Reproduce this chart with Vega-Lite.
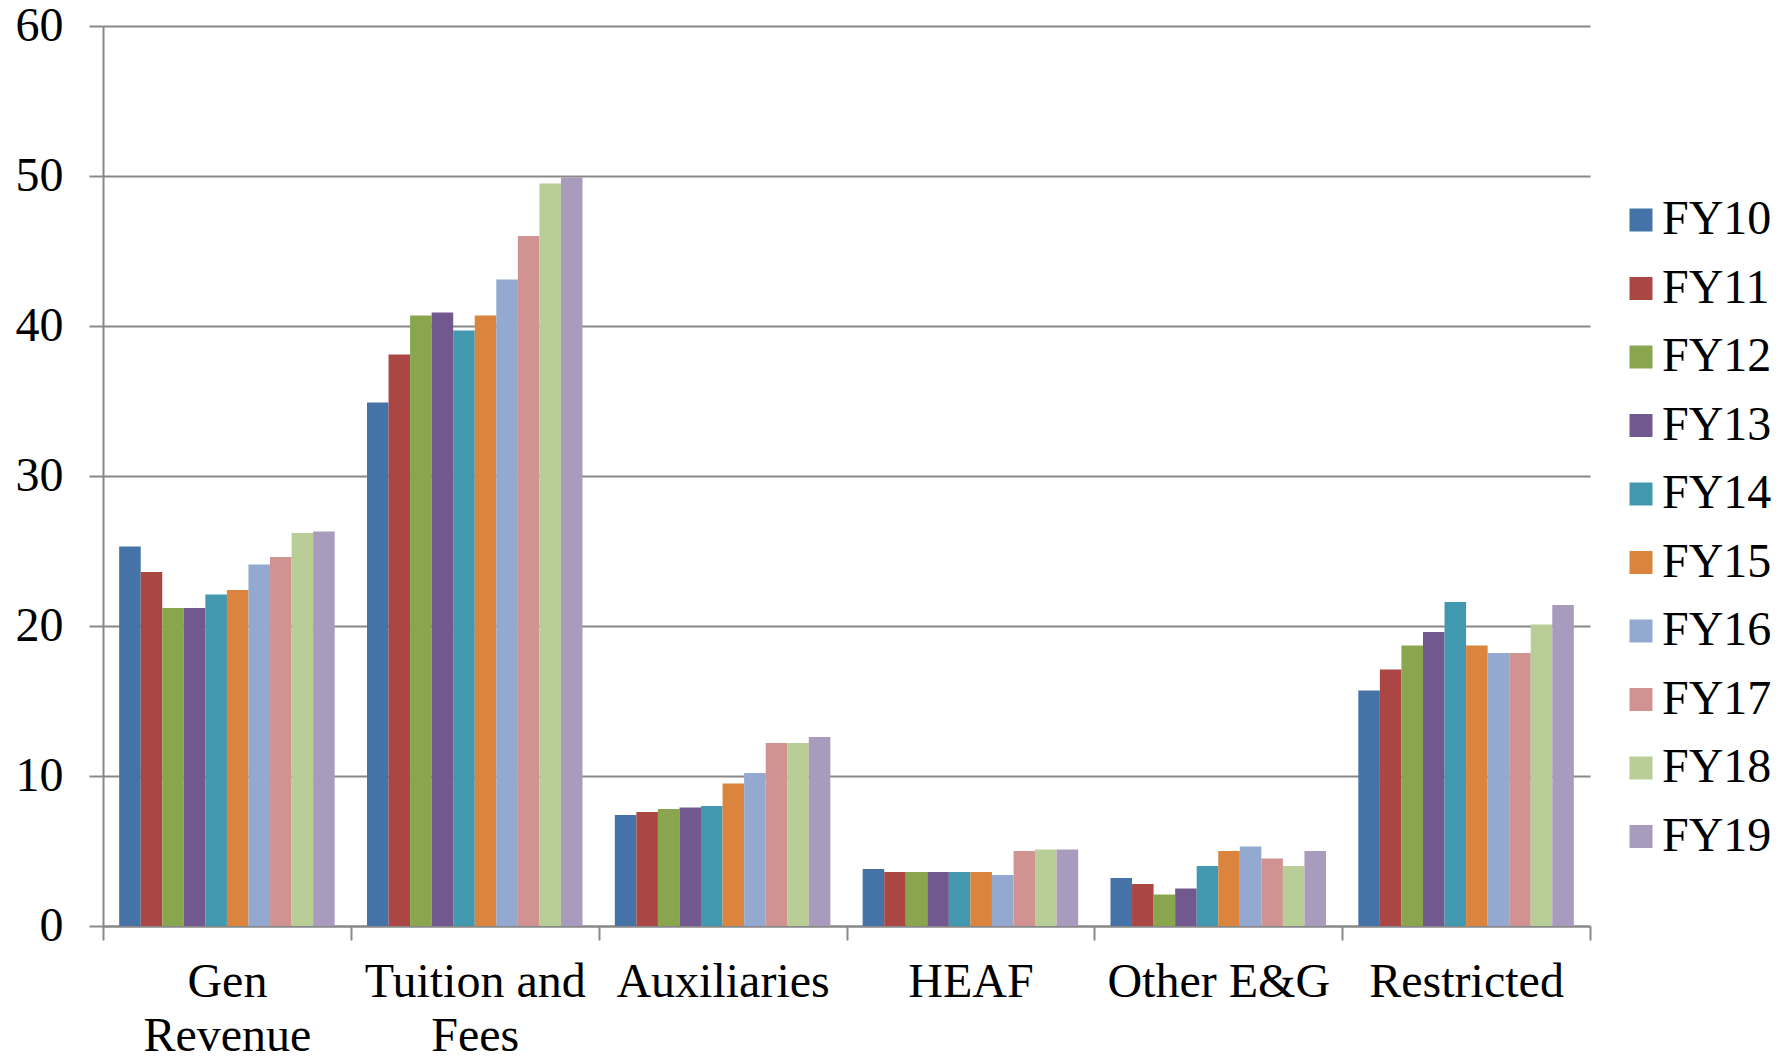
{
  "$schema": "https://vega.github.io/schema/vega-lite/v6.json",
  "width": 1487,
  "height": 900,
  "autosize": "none",
  "padding": {"left": 103, "top": 26, "right": 201, "bottom": 132},
  "background": "white",
  "config": {
    "view": {"stroke": null},
    "font": "Liberation Serif"
  },
  "data": {
    "values": [
      {"cat": "Gen Revenue", "fy": "FY10", "v": 25.3},
      {"cat": "Gen Revenue", "fy": "FY11", "v": 23.6},
      {"cat": "Gen Revenue", "fy": "FY12", "v": 21.2},
      {"cat": "Gen Revenue", "fy": "FY13", "v": 21.2},
      {"cat": "Gen Revenue", "fy": "FY14", "v": 22.1},
      {"cat": "Gen Revenue", "fy": "FY15", "v": 22.4},
      {"cat": "Gen Revenue", "fy": "FY16", "v": 24.1},
      {"cat": "Gen Revenue", "fy": "FY17", "v": 24.6},
      {"cat": "Gen Revenue", "fy": "FY18", "v": 26.2},
      {"cat": "Gen Revenue", "fy": "FY19", "v": 26.3},
      {"cat": "Tuition and Fees", "fy": "FY10", "v": 34.9},
      {"cat": "Tuition and Fees", "fy": "FY11", "v": 38.1},
      {"cat": "Tuition and Fees", "fy": "FY12", "v": 40.7},
      {"cat": "Tuition and Fees", "fy": "FY13", "v": 40.9},
      {"cat": "Tuition and Fees", "fy": "FY14", "v": 39.7},
      {"cat": "Tuition and Fees", "fy": "FY15", "v": 40.7},
      {"cat": "Tuition and Fees", "fy": "FY16", "v": 43.1},
      {"cat": "Tuition and Fees", "fy": "FY17", "v": 46.0},
      {"cat": "Tuition and Fees", "fy": "FY18", "v": 49.5},
      {"cat": "Tuition and Fees", "fy": "FY19", "v": 49.9},
      {"cat": "Auxiliaries", "fy": "FY10", "v": 7.4},
      {"cat": "Auxiliaries", "fy": "FY11", "v": 7.6},
      {"cat": "Auxiliaries", "fy": "FY12", "v": 7.8},
      {"cat": "Auxiliaries", "fy": "FY13", "v": 7.9},
      {"cat": "Auxiliaries", "fy": "FY14", "v": 8.0},
      {"cat": "Auxiliaries", "fy": "FY15", "v": 9.5},
      {"cat": "Auxiliaries", "fy": "FY16", "v": 10.2},
      {"cat": "Auxiliaries", "fy": "FY17", "v": 12.2},
      {"cat": "Auxiliaries", "fy": "FY18", "v": 12.2},
      {"cat": "Auxiliaries", "fy": "FY19", "v": 12.6},
      {"cat": "HEAF", "fy": "FY10", "v": 3.8},
      {"cat": "HEAF", "fy": "FY11", "v": 3.6},
      {"cat": "HEAF", "fy": "FY12", "v": 3.6},
      {"cat": "HEAF", "fy": "FY13", "v": 3.6},
      {"cat": "HEAF", "fy": "FY14", "v": 3.6},
      {"cat": "HEAF", "fy": "FY15", "v": 3.6},
      {"cat": "HEAF", "fy": "FY16", "v": 3.4},
      {"cat": "HEAF", "fy": "FY17", "v": 5.0},
      {"cat": "HEAF", "fy": "FY18", "v": 5.1},
      {"cat": "HEAF", "fy": "FY19", "v": 5.1},
      {"cat": "Other E&G", "fy": "FY10", "v": 3.2},
      {"cat": "Other E&G", "fy": "FY11", "v": 2.8},
      {"cat": "Other E&G", "fy": "FY12", "v": 2.1},
      {"cat": "Other E&G", "fy": "FY13", "v": 2.5},
      {"cat": "Other E&G", "fy": "FY14", "v": 4.0},
      {"cat": "Other E&G", "fy": "FY15", "v": 5.0},
      {"cat": "Other E&G", "fy": "FY16", "v": 5.3},
      {"cat": "Other E&G", "fy": "FY17", "v": 4.5},
      {"cat": "Other E&G", "fy": "FY18", "v": 4.0},
      {"cat": "Other E&G", "fy": "FY19", "v": 5.0},
      {"cat": "Restricted", "fy": "FY10", "v": 15.7},
      {"cat": "Restricted", "fy": "FY11", "v": 17.1},
      {"cat": "Restricted", "fy": "FY12", "v": 18.7},
      {"cat": "Restricted", "fy": "FY13", "v": 19.6},
      {"cat": "Restricted", "fy": "FY14", "v": 21.6},
      {"cat": "Restricted", "fy": "FY15", "v": 18.7},
      {"cat": "Restricted", "fy": "FY16", "v": 18.2},
      {"cat": "Restricted", "fy": "FY17", "v": 18.2},
      {"cat": "Restricted", "fy": "FY18", "v": 20.1},
      {"cat": "Restricted", "fy": "FY19", "v": 21.4}
    ]
  },
  "mark": {"type": "bar"},
  "encoding": {
    "x": {
      "field": "cat",
      "type": "nominal",
      "sort": ["Gen Revenue", "Tuition and Fees", "Auxiliaries", "HEAF", "Other E&G", "Restricted"],
      "scale": {"paddingInner": 0, "paddingOuter": 0},
      "axis": {
        "title": null,
        "labelAngle": 0,
        "labelFont": "Liberation Serif",
        "labelFontSize": 48,
        "labelColor": "black",
        "labelLimit": 0,
        "labelPadding": 18,
        "labelLineHeight": 54,
        "labelBaseline": "top",
        "labelExpr": "datum.label == 'Gen Revenue' ? ['Gen', 'Revenue'] : datum.label == 'Tuition and Fees' ? ['Tuition and', 'Fees'] : datum.label",
        "tickBand": "extent",
        "tickSize": 14,
        "tickColor": "#888888",
        "tickWidth": 2,
        "domainColor": "#888888",
        "domainWidth": 2,
        "grid": false
      }
    },
    "xOffset": {
      "field": "fy",
      "type": "nominal",
      "scale": {"paddingInner": 0, "paddingOuter": 0.75}
    },
    "y": {
      "field": "v",
      "type": "quantitative",
      "scale": {"domain": [0, 60], "nice": false},
      "axis": {
        "title": null,
        "values": [0, 10, 20, 30, 40, 50, 60],
        "labelFont": "Liberation Serif",
        "labelFontSize": 48,
        "labelColor": "black",
        "labelPadding": 26,
        "tickSize": 14,
        "tickColor": "#888888",
        "tickWidth": 2,
        "domainColor": "#888888",
        "domainWidth": 2,
        "gridColor": "#888888",
        "gridWidth": 2
      }
    },
    "color": {
      "field": "fy",
      "type": "nominal",
      "scale": {
        "domain": ["FY10", "FY11", "FY12", "FY13", "FY14", "FY15", "FY16", "FY17", "FY18", "FY19"],
        "range": ["#4572A7", "#AA4643", "#89A54E", "#71588F", "#4198AF", "#DB843D", "#93A9CF", "#D19392", "#B9CD96", "#A99BBD"]
      },
      "legend": {
        "title": null,
        "orient": "none",
        "legendX": 1514,
        "legendY": 170,
        "symbolType": "square",
        "symbolSize": 529,
        "symbolStrokeWidth": 0,
        "labelFont": "Liberation Serif",
        "labelFontSize": 48,
        "labelColor": "black",
        "labelLimit": 0,
        "labelOffset": -3,
        "rowPadding": 20.5
      }
    }
  }
}
